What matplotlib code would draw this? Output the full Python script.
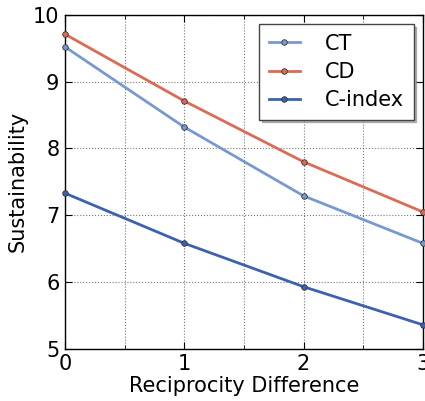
import matplotlib
matplotlib.use("Agg")
import matplotlib.pyplot as plt
from matplotlib.ticker import MultipleLocator, FixedLocator

x = [0, 1, 2, 3]
ct = [9.52, 8.32, 7.29, 6.58]
cd = [9.71, 8.71, 7.80, 7.05]
cindex = [7.33, 6.58, 5.93, 5.36]
labels = ["CT", "CD", "C-index"]
colors = ["#7799d0", "#dd6a55", "#3a62b0"]

plt.rcParams['font.family'] = ['DejaVu Sans']
fig = plt.figure(figsize=(4.25, 4.01), dpi=100)
ax = fig.add_axes([0.153, 0.130, 0.842, 0.833])

for ys, lab, c in zip([ct, cd, cindex], labels, colors):
    ax.plot(x, ys, '-o', color=c, lw=2, ms=4, mec='#333333', mew=0.6,
            label=lab, clip_on=False, zorder=3)

ax.set_xlim(0, 3)
ax.set_ylim(5, 10)
ax.xaxis.set_major_locator(FixedLocator([0, 1, 2, 3]))
ax.xaxis.set_minor_locator(MultipleLocator(0.5))
ax.yaxis.set_major_locator(MultipleLocator(1))
ax.grid(True, which='major', color='#555555', ls=':', lw=0.8, alpha=0.8)
ax.grid(True, which='minor', axis='x', color='#555555', ls=':', lw=0.8, alpha=0.8)
ax.tick_params(which='both', direction='in', top=True, right=True, labelsize=15)
ax.tick_params(which='major', length=5, pad=4)
ax.tick_params(which='minor', length=3)
for s in ax.spines.values():
    s.set_linewidth(1.0)
ax.set_xlabel("Reciprocity Difference", fontsize=15, labelpad=1)
ax.set_ylabel("Sustainability", fontsize=15, labelpad=4)
leg = ax.legend(loc='upper right', fontsize=15, fancybox=False,
                shadow={'color': '#888888', 'alpha': 0.6},
                framealpha=1, edgecolor='#444444', borderaxespad=0.45,
                handlelength=1.5, handletextpad=1.2, labelspacing=0.4,
                borderpad=0.45)
fig.savefig("out.png", dpi=100)
